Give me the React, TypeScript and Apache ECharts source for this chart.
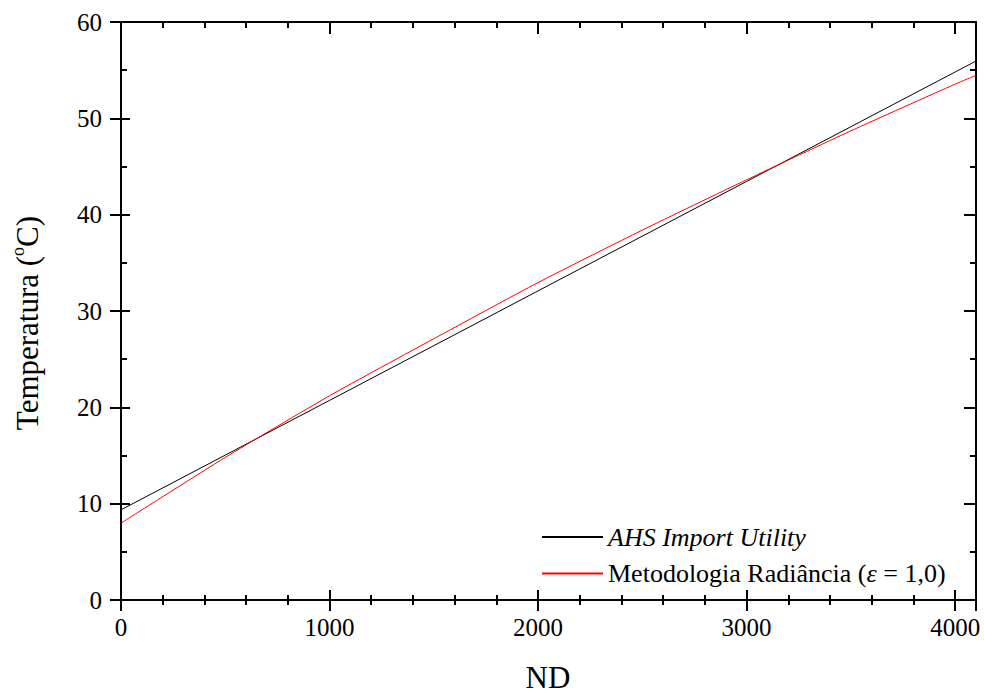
import React, { useEffect, useRef } from "react";
import * as echarts from "echarts";

const ndValues = [0, 500, 1000, 1500, 2000, 2500, 3000, 3500, 4000, 4100];
const ahsValues = [9.36, 15.04, 20.72, 26.4, 32.09, 37.77, 43.45, 49.13, 54.81, 55.95];
const radValues = [7.98, 14.8, 21.2, 27.12, 32.95, 38.4, 43.62, 48.7, 53.55, 54.46];
const seriesNames = ["AHS Import Utility", "Metodologia Radiância (ε = 1,0)"];
const xTitle = "ND";

const FONT = "'Liberation Serif', 'Times New Roman', serif";

export default function App() {
  const ref = useRef<HTMLDivElement>(null);
  useEffect(() => {
    if (!ref.current) return;
    const chart = echarts.init(ref.current, undefined, { renderer: "svg" });
    const lineStyle = { color: "#000", width: 2 };
    const baseX = { type: "value" as const, min: 0, max: 4100, splitLine: { show: false }, axisLine: { show: true, onZero: false, lineStyle } };
    const baseY = { type: "value" as const, min: 0, max: 60, interval: 10, splitLine: { show: false }, axisLine: { show: true, onZero: false, lineStyle } };
    const noLabel = { show: false };
    chart.setOption({
      animation: false,
      backgroundColor: "#fff",
      grid: { left: 121, right: 8, top: 22, bottom: 93, containLabel: false },
      xAxis: [
        {
          ...baseX, position: "bottom", interval: 1000,
          axisTick: { show: true, inside: false, length: 11, lineStyle },
          axisLabel: {
            show: true, margin: 15, color: "#000", fontSize: 25, fontFamily: FONT,
            formatter: (v: number) => (v % 1000 === 0 ? String(v) : ""),
          },
        },
        { ...baseX, position: "bottom", interval: 1000, axisTick: { show: true, inside: true, length: 10, lineStyle }, axisLabel: noLabel },
        { ...baseX, position: "bottom", interval: 200, axisTick: { show: true, inside: false, length: 5, lineStyle }, axisLabel: noLabel },
        { ...baseX, position: "bottom", interval: 200, axisTick: { show: true, inside: true, length: 5, lineStyle }, axisLabel: noLabel },
        { ...baseX, position: "top", interval: 1000, axisTick: { show: true, inside: true, length: 12, lineStyle }, axisLabel: noLabel },
        { ...baseX, position: "top", interval: 200, axisTick: { show: true, inside: true, length: 6, lineStyle }, axisLabel: noLabel },
      ],
      yAxis: [
        {
          ...baseY, position: "left",
          axisTick: { show: true, inside: false, length: 11, lineStyle },
          axisLabel: { show: true, margin: 19, color: "#000", fontSize: 25, fontFamily: FONT },
        },
        {
          ...baseY, position: "left",
          axisTick: { show: true, inside: true, length: 9, lineStyle },
          minorTick: { show: true, splitNumber: 2, length: 6, lineStyle },
          axisLabel: noLabel,
        },
        {
          ...baseY, position: "right",
          axisTick: { show: true, inside: true, length: 12, lineStyle },
          minorTick: { show: true, splitNumber: 2, length: 6, lineStyle },
          axisLabel: noLabel,
        },
      ],
      legend: {
        orient: "vertical",
        left: 541,
        top: 524,
        padding: 0,
        itemWidth: 61,
        itemHeight: 2,
        itemGap: 10.5,
        itemStyle: { opacity: 0 },
        data: seriesNames,
        formatter: (name: string) =>
          name === seriesNames[0] ? `{i|${name}}` : name.replace("ε", "{e|ε}"),
        textStyle: {
          fontSize: 26, fontFamily: FONT, color: "#000",
          rich: {
            i: { fontSize: 26, fontFamily: FONT, fontStyle: "italic", color: "#000" },
            e: { fontSize: 26, fontFamily: FONT, fontStyle: "italic", color: "#000" },
          },
        },
      },
      graphic: [
        {
          type: "text",
          x: 548,
          y: 677,
          style: { text: xTitle, fontSize: 31, fontFamily: FONT, fill: "#000", textAlign: "center", textVerticalAlign: "middle" },
        },
        {
          type: "text",
          x: 27,
          y: 323,
          rotation: Math.PI / 2,
          style: {
            text: "{m|Temperatura (}{s|o}{m|C)}",
            fontSize: 31,
            fontFamily: FONT,
            fill: "#000",
            textAlign: "center",
            textVerticalAlign: "middle",
            rich: {
              m: { fontSize: 31, fontFamily: FONT, fill: "#000", lineHeight: 36 },
              s: { fontSize: 18, fontFamily: FONT, fill: "#000", verticalAlign: "top", lineHeight: 36 },
            },
          },
        },
      ],
      series: [
        {
          name: seriesNames[0],
          type: "line",
          xAxisIndex: 0,
          yAxisIndex: 0,
          symbol: "none",
          lineStyle: { color: "#000", width: 1 },
          itemStyle: { color: "#000" },
          data: ndValues.map((x, i) => [x, ahsValues[i]]),
        },
        {
          name: seriesNames[1],
          type: "line",
          xAxisIndex: 0,
          yAxisIndex: 0,
          symbol: "none",
          smooth: 0.2,
          lineStyle: { color: "#ff0000", width: 1 },
          itemStyle: { color: "#ff0000" },
          data: ndValues.map((x, i) => [x, radValues[i]]),
        },
      ],
    });
    return () => chart.dispose();
  }, []);
  return <div ref={ref} style={{ position: "absolute", left: 0, top: 0, width: 984, height: 693 }} />;
}
